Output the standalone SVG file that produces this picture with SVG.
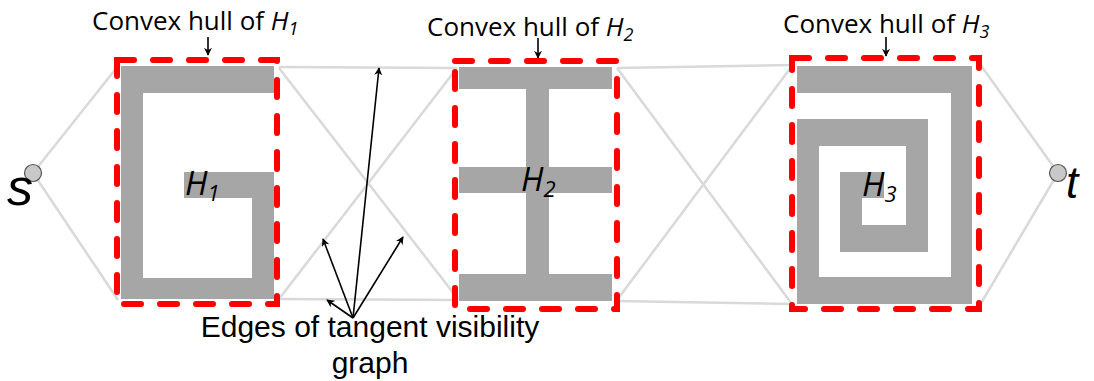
<svg xmlns="http://www.w3.org/2000/svg" width="1094" height="381" viewBox="0 0 1094 381">
<style>
.edge{stroke:#d9d9d9;stroke-width:2.5;fill:none}
.obs{fill:#a6a6a6}
.hull{fill:none;stroke:#ff0000;stroke-width:6;stroke-dasharray:17 19;stroke-linecap:round}
.ptr{stroke:#000;stroke-width:1.6;fill:none;marker-end:url(#ah)}
.lbl{font-family:"Open Sans","Liberation Sans",sans-serif;font-size:26px;fill:#000}
.hl{font-family:"Open Sans","Liberation Sans",sans-serif;font-size:33px;font-style:italic;fill:#000}
.cap{font-family:"Liberation Sans",Arial,sans-serif;font-size:30px;fill:#000}
.pt{fill:#c8c8c8;stroke:#555;stroke-width:1.2}
.term{font-family:"Liberation Sans",Arial,sans-serif;font-style:italic;fill:#000}
</style>
<defs>
<marker id="ah" viewBox="0 0 10 10" refX="9" refY="5" markerWidth="8" markerHeight="8" markerUnits="userSpaceOnUse" orient="auto">
<path d="M0,0 L10,5 L0,10 L3,5 Z" fill="#000"/>
</marker>
</defs>
<rect width="1094" height="381" fill="#fff"/>
<g id="connectors">
<line class="edge" x1="33" y1="173" x2="118" y2="66"/>
<line class="edge" x1="33" y1="173" x2="118" y2="300"/>
<line class="edge" x1="279" y1="67" x2="457" y2="68"/>
<line class="edge" x1="279" y1="68" x2="458" y2="299"/>
<line class="edge" x1="279" y1="299" x2="457" y2="68"/>
<line class="edge" x1="279" y1="299" x2="458" y2="300"/>
<line class="edge" x1="617" y1="68" x2="792" y2="65"/>
<line class="edge" x1="617" y1="68" x2="792" y2="304"/>
<line class="edge" x1="617" y1="300" x2="792" y2="66"/>
<line class="edge" x1="617" y1="301" x2="792" y2="304"/>
<line class="edge" x1="977" y1="60" x2="1058" y2="173"/>
<line class="edge" x1="1058" y1="173" x2="977" y2="310"/>
</g>
<g id="H1">
<rect class="obs" x="121" y="66" width="153" height="27"/>
<rect class="obs" x="121" y="66" width="22" height="233"/>
<rect class="obs" x="121" y="278" width="153" height="21"/>
<rect class="obs" x="252" y="172" width="22" height="127"/>
<rect class="obs" x="184" y="172" width="90" height="26"/>
<rect class="hull" x="117" y="60" width="160" height="244"/>
<text class="hl" x="185" y="195">H<tspan font-size="22" dy="6">1</tspan></text>
<text class="lbl" x="92" y="30">Convex hull of <tspan font-style="italic">H</tspan><tspan font-style="italic" font-size="18" dy="5">1</tspan></text>
<line class="ptr" x1="208" y1="37" x2="208" y2="55"/>
</g>
<g id="H2">
<rect class="obs" x="459" y="67" width="153" height="22"/>
<rect class="obs" x="526" y="67" width="23" height="234"/>
<rect class="obs" x="459" y="167" width="153" height="26"/>
<rect class="obs" x="459" y="274" width="153" height="27"/>
<rect class="hull" x="455" y="61" width="162" height="248"/>
<text class="hl" x="521" y="191">H<tspan font-size="22" dy="6">2</tspan></text>
<text class="lbl" x="427" y="36">Convex hull of <tspan font-style="italic">H</tspan><tspan font-style="italic" font-size="18" dy="5">2</tspan></text>
<line class="ptr" x1="538" y1="38" x2="538" y2="58"/>
</g>
<g id="H3">
<rect class="obs" x="797" y="66" width="175" height="27"/>
<rect class="obs" x="951" y="66" width="21" height="238"/>
<rect class="obs" x="797" y="277" width="175" height="27"/>
<rect class="obs" x="797" y="119" width="22" height="185"/>
<rect class="obs" x="797" y="119" width="131" height="27"/>
<rect class="obs" x="906" y="119" width="22" height="133"/>
<rect class="obs" x="840" y="225" width="88" height="27"/>
<rect class="obs" x="840" y="172" width="22" height="80"/>
<rect class="obs" x="840" y="172" width="44" height="26"/>
<rect class="hull" x="792" y="58" width="187" height="251"/>
<text class="hl" x="862" y="196">H<tspan font-size="22" dy="6">3</tspan></text>
<text class="lbl" x="783" y="33">Convex hull of <tspan font-style="italic">H</tspan><tspan font-style="italic" font-size="18" dy="5">3</tspan></text>
<line class="ptr" x1="886" y1="37" x2="886" y2="56"/>
</g>
<g id="s">
<circle class="pt" cx="33" cy="173" r="8.5"/>
<text class="term" x="7" y="205" font-size="52">s</text>
</g>
<g id="t">
<circle class="pt" cx="1058" cy="173" r="8.5"/>
<text class="term" x="1066" y="198" font-size="44">t</text>
</g>
<g id="caption">
<line class="ptr" x1="353" y1="318" x2="327" y2="300"/>
<line class="ptr" x1="353" y1="318" x2="323" y2="239"/>
<line class="ptr" x1="353" y1="318" x2="379" y2="68"/>
<line class="ptr" x1="353" y1="318" x2="403" y2="237"/>
<text class="cap" x="370" y="337" text-anchor="middle">Edges of tangent visibility</text>
<text class="cap" x="370" y="373" text-anchor="middle">graph</text>
</g>
</svg>
